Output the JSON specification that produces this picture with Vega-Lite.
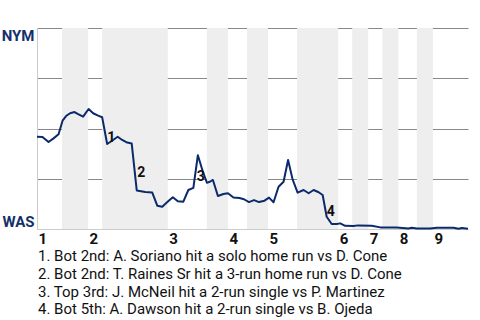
{
  "$schema": "https://vega.github.io/schema/vega-lite/v6.json",
  "width": 431,
  "height": 201,
  "autosize": {"type": "none"},
  "padding": {"left": 37, "top": 28, "right": 12, "bottom": 91},
  "background": "white",
  "config": {"view": {"stroke": null}, "font": "Roboto"},
  "title": {
    "text": [
      "1. Bot 2nd: A. Soriano hit a solo home run vs D. Cone",
      "2. Bot 2nd: T. Raines Sr hit a 3-run home run vs D. Cone",
      "3. Top 3rd: J. McNeil hit a 2-run single vs P. Martinez",
      "4. Bot 5th: A. Dawson hit a 2-run single vs B. Ojeda"
    ],
    "orient": "bottom",
    "anchor": "start",
    "frame": "group",
    "font": "Roboto",
    "fontSize": 15,
    "fontWeight": "normal",
    "color": "#111111",
    "lineHeight": 17.8,
    "offset": 3,
    "dx": 1
  },
  "datasets": {
    "bands": [
      {"start": 5.0, "end": 10.2},
      {"start": 13.0, "end": 26.1},
      {"start": 33.9, "end": 38.1},
      {"start": 41.9, "end": 46.1},
      {"start": 51.9, "end": 60.1},
      {"start": 62.9, "end": 66.1},
      {"start": 68.9, "end": 72.1},
      {"start": 75.8, "end": 79.0}
    ],
    "wp": [
      {"pa": 0.0, "p": 0.459}, {"pa": 1.1, "p": 0.458}, {"pa": 2.3, "p": 0.433}, {"pa": 3.3, "p": 0.451},
      {"pa": 4.3, "p": 0.471}, {"pa": 5.1, "p": 0.539}, {"pa": 5.8, "p": 0.562}, {"pa": 6.6, "p": 0.576},
      {"pa": 7.5, "p": 0.582}, {"pa": 8.2, "p": 0.572}, {"pa": 9.2, "p": 0.559}, {"pa": 10.3, "p": 0.597},
      {"pa": 11.2, "p": 0.576}, {"pa": 12.2, "p": 0.564}, {"pa": 13.0, "p": 0.556}, {"pa": 14.0, "p": 0.423},
      {"pa": 14.9, "p": 0.438}, {"pa": 16.1, "p": 0.459}, {"pa": 17.0, "p": 0.443}, {"pa": 18.0, "p": 0.430},
      {"pa": 18.9, "p": 0.425}, {"pa": 19.9, "p": 0.192}, {"pa": 21.6, "p": 0.184}, {"pa": 23.0, "p": 0.181},
      {"pa": 24.0, "p": 0.116}, {"pa": 25.0, "p": 0.111}, {"pa": 26.0, "p": 0.134}, {"pa": 27.1, "p": 0.158},
      {"pa": 28.1, "p": 0.138}, {"pa": 29.2, "p": 0.136}, {"pa": 30.2, "p": 0.194}, {"pa": 31.2, "p": 0.205},
      {"pa": 32.1, "p": 0.367}, {"pa": 33.1, "p": 0.285}, {"pa": 33.9, "p": 0.230}, {"pa": 34.5, "p": 0.235},
      {"pa": 35.1, "p": 0.244}, {"pa": 36.1, "p": 0.164}, {"pa": 37.2, "p": 0.174}, {"pa": 38.1, "p": 0.178},
      {"pa": 39.2, "p": 0.157}, {"pa": 40.4, "p": 0.154}, {"pa": 41.3, "p": 0.148}, {"pa": 42.3, "p": 0.134},
      {"pa": 43.3, "p": 0.144}, {"pa": 44.3, "p": 0.134}, {"pa": 45.4, "p": 0.141}, {"pa": 46.3, "p": 0.156},
      {"pa": 47.2, "p": 0.133}, {"pa": 48.2, "p": 0.210}, {"pa": 49.2, "p": 0.235}, {"pa": 50.1, "p": 0.343},
      {"pa": 51.0, "p": 0.247}, {"pa": 52.0, "p": 0.181}, {"pa": 53.2, "p": 0.194}, {"pa": 54.2, "p": 0.178},
      {"pa": 55.2, "p": 0.194}, {"pa": 56.2, "p": 0.183}, {"pa": 57.0, "p": 0.169}, {"pa": 57.8, "p": 0.061},
      {"pa": 58.8, "p": 0.025}, {"pa": 59.8, "p": 0.025}, {"pa": 60.5, "p": 0.028}, {"pa": 61.5, "p": 0.016},
      {"pa": 63.1, "p": 0.015}, {"pa": 64.1, "p": 0.018}, {"pa": 66.8, "p": 0.016}, {"pa": 68.5, "p": 0.008},
      {"pa": 71.8, "p": 0.008}, {"pa": 74.1, "p": 0.003}, {"pa": 74.8, "p": 0.006}, {"pa": 75.8, "p": 0.003},
      {"pa": 78.4, "p": 0.003}, {"pa": 79.8, "p": 0.006}, {"pa": 83.1, "p": 0.006}, {"pa": 84.1, "p": 0.001},
      {"pa": 84.8, "p": 0.005}, {"pa": 86.0, "p": 0.001}
    ],
    "notes": [
      {"pa": 14.8, "p": 0.455, "label": "1"},
      {"pa": 20.8, "p": 0.279, "label": "2"},
      {"pa": 32.7, "p": 0.259, "label": "3"},
      {"pa": 58.6, "p": 0.085, "label": "4"}
    ]
  },
  "layer": [
    {
      "data": {"name": "bands"},
      "mark": {"type": "rect", "fill": "#eeeeee", "opacity": 1},
      "encoding": {
        "x": {"field": "start", "type": "quantitative", "scale": {"domain": [0, 86], "nice": false, "zero": false},
          "axis": {
            "values": [0, 10.2, 26.1, 38.1, 46.1, 60.1, 66.1, 72.1, 79.0],
            "labelExpr": "'' + (indexof([0, 10.2, 26.1, 38.1, 46.1, 60.1, 66.1, 72.1, 79], datum.value) + 1)",
            "title": null,
            "grid": false,
            "ticks": false,
            "domainColor": "#cccccc",
            "labelAlign": "left",
            "labelBaseline": "top",
            "labelPadding": 2,
            "labelFont": "Roboto",
            "labelFontSize": 15,
            "labelFontWeight": "bold",
            "labelColor": "#111111",
            "labelFlush": false,
            "labelOverlap": false,
            "labelOffset": 1
          }
        },
        "x2": {"field": "end"}
      }
    },
    {
      "data": {"name": "wp"},
      "mark": {"type": "line", "color": "#0b2a6b", "strokeWidth": 2, "strokeJoin": "round"},
      "encoding": {
        "x": {"field": "pa", "type": "quantitative"},
        "y": {"field": "p", "type": "quantitative", "scale": {"domain": [0, 1], "nice": false},
          "axis": {
            "values": [0, 0.25, 0.5, 0.75, 1],
            "labelExpr": "datum.value == 1 ? 'NYM' : datum.value == 0 ? 'WAS' : ''",
            "title": null,
            "grid": true,
            "gridColor": {"condition": {"test": "datum.value == 0", "value": "#cccccc"}, "value": "#888888"},
            "gridOpacity": 1,
            "ticks": false,
            "domainColor": "#cccccc",
            "labelFlush": true,
            "labelFlushOffset": 0,
            "labelPadding": 3,
            "labelFont": "Roboto",
            "labelFontSize": 15,
            "labelFontWeight": "bold",
            "labelColor": "#14306b"
          }
        }
      }
    },
    {
      "data": {"name": "notes"},
      "mark": {"type": "text", "font": "Roboto", "fontSize": 14, "fontWeight": "bold", "color": "#111111"},
      "encoding": {
        "x": {"field": "pa", "type": "quantitative"},
        "y": {"field": "p", "type": "quantitative"},
        "text": {"field": "label"}
      }
    }
  ]
}
